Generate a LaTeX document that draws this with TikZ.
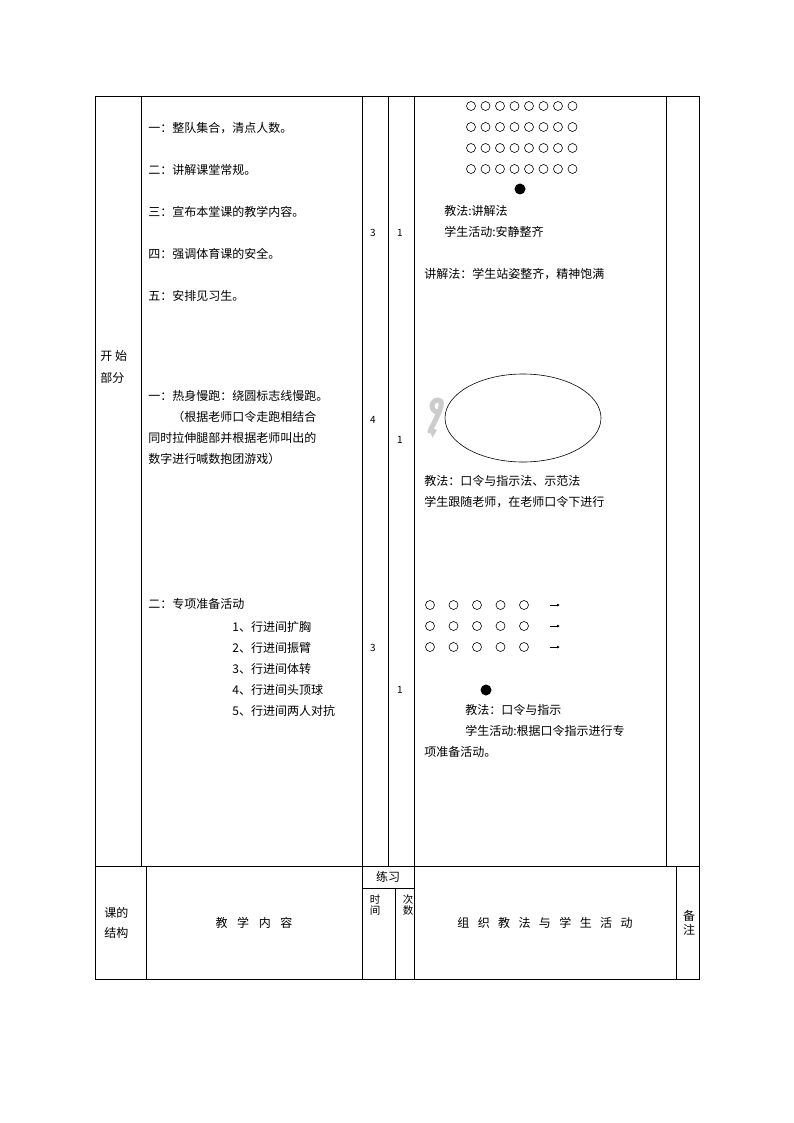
\documentclass[tikz,border=0pt]{standalone}
\usepackage{fontspec}
\setmainfont{Noto Sans CJK SC}
\usetikzlibrary{arrows.meta}
\begin{document}
\begin{tikzpicture}[x=1pt,y=-1pt,line width=0.8pt,
 txt/.style={anchor=west,inner sep=0pt,font=\fontsize{12}{14}\selectfont},
 num/.style={inner sep=0pt,font=\fontsize{10}{12}\selectfont},
 ring/.style={draw,circle,minimum size=9pt,inner sep=0pt,line width=0.6pt}]
\useasboundingbox (0,0) rectangle (794,1123);
% top table
\draw (95,96) rectangle (699,866);
\foreach \x in {141,362,388,414,666} \draw (\x,96) -- (\x,866);
% bottom table
\draw (95,866) rectangle (699,979);
\foreach \x in {146,362,414,676} \draw (\x,866) -- (\x,979);
\draw (395,888) -- (395,979);
\draw (362,888) -- (414,888);
% left labels
\node[txt] (s1) at (100,356) {开 始};
\node[txt] (s2) at (100,378) {部分};
% content
\node[txt] (a1) at (148,128) {一：整队集合，清点人数。};
\node[txt] (a2) at (148,170) {二：讲解课堂常规。};
\node[txt] (a3) at (148,212) {三：宣布本堂课的教学内容。};
\node[txt] (a4) at (148,254) {四：强调体育课的安全。};
\node[txt] (a5) at (148,296) {五：安排见习生。};
\node[txt] (b1) at (148,396) {一：热身慢跑：绕圆标志线慢跑。};
\node[txt] (b2) at (148,417) {\hspace{2em}（根据老师口令走跑相结合};
\node[txt] (b3) at (148,438) {同时拉伸腿部并根据老师叫出的};
\node[txt] (b4) at (148,459) {数字进行喊数抱团游戏）};
\node[txt] (c0) at (148,604) {二：专项准备活动};
\node[txt] (c1) at (232,627) {1、行进间扩胸};
\node[txt] (c2) at (232,648) {2、行进间振臂};
\node[txt] (c3) at (232,669) {3、行进间体转};
\node[txt] (c4) at (232,690) {4、行进间头顶球};
\node[txt] (c5) at (232,711) {5、行进间两人对抗};
% numbers
\node[num] (n1) at (373,233) {3};
\node[num] (n2) at (373,420) {4};
\node[num] (n3) at (373,648) {3};
\node[num] (m1) at (400,233) {1};
\node[num] (m2) at (400,440) {1};
\node[num] (m3) at (400,690) {1};
% right column part 1
\foreach \r/\y in {1/106,2/127,3/148,4/169}
 \foreach \i in {0,...,7} \node[ring] (p\r\i) at (471+\i*14.5,\y) {};
\node[fill,circle,minimum size=11pt,inner sep=0pt] (t1) at (520,189) {};
\node[txt] (d1) at (444,211) {教法:讲解法};
\node[txt] (d2) at (444,232) {学生活动:安静整齐};
\node[txt] (d3) at (424,274) {讲解法：学生站姿整齐，精神饱满};
% part 2
\draw[line width=0.6pt] (523,418) ellipse [x radius=78, y radius=44];
\draw[line width=5pt,gray!40,-{Triangle[length=7pt,width=11pt]}] (438,412) arc[start angle=90,end angle=270,radius=6] -- ++(0,0) to[out=0,in=200] (437,430);
\node[txt] (e1) at (424,481) {教法：口令与指示法、示范法};
\node[txt] (e2) at (424,502) {学生跟随老师，在老师口令下进行};
% part 3
\foreach \r/\y in {1/605,2/626,3/647}{
 \foreach \i in {0,...,4} \node[ring] (q\r\i) at (430+\i*23.5,\y) {};
 \coordinate (ra\r) at (550,\y); \coordinate (rb\r) at (560,\y);
 \draw[-{Latex[length=3pt,width=3pt]},line width=0.6pt] (ra\r) -- (rb\r);}
\node[fill,circle,minimum size=11pt,inner sep=0pt] (t2) at (486,690) {};
\node[txt] (f1) at (465,710) {教法：口令与指示};
\node[txt] (f2) at (465,731) {学生活动:根据口令指示进行专};
\node[txt] (f3) at (424,752) {项准备活动。};
% bottom header
\node[txt] (g1) at (104,913) {课的};
\node[txt] (g2) at (104,933) {结构};
\node[font=\fontsize{12}{14}\selectfont] (g3) at (254,923) {教\hspace{0.8em}学\hspace{0.8em}内\hspace{0.8em}容};
\node[font=\fontsize{12}{14}\selectfont,inner sep=0pt] (g4) at (388,877) {练习};
\node[font=\fontsize{10.5}{11}\selectfont,inner sep=0pt,align=center] (g5) at (375,905) {时\\间};
\node[font=\fontsize{10.5}{11}\selectfont,inner sep=0pt,align=center] (g6) at (408,905) {次\\数};
\node[font=\fontsize{12}{14}\selectfont] (g7) at (545,923) {组\hspace{0.7em}织\hspace{0.7em}教\hspace{0.7em}法\hspace{0.7em}与\hspace{0.7em}学\hspace{0.7em}生\hspace{0.7em}活\hspace{0.7em}动};
\node[font=\fontsize{12}{14}\selectfont,inner sep=0pt,align=center] (g8) at (689,923) {备\\注};
\end{tikzpicture}
\end{document}
